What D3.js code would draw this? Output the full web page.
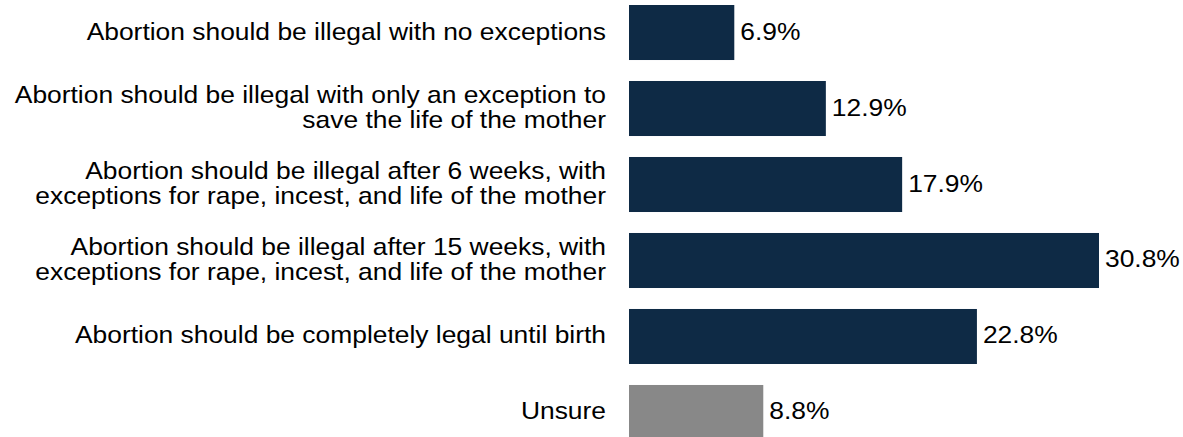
<!DOCTYPE html>
<html>
<head>
<meta charset="utf-8">
<script src="https://cdn.jsdelivr.net/npm/d3@7"></script>
<style>
  html, body { margin: 0; padding: 0; background: #fff; }
  svg { display: block; font-family: "Liberation Sans", Arial, sans-serif; }
</style>
</head>
<body>
<svg id="chart" width="1183" height="437"></svg>
<script>
// Survey responses on abortion policy
const categories = [
  ["Abortion should be illegal with no exceptions"],
  ["Abortion should be illegal with only an exception to", "save the life of the mother"],
  ["Abortion should be illegal after 6 weeks, with", "exceptions for rape, incest, and life of the mother"],
  ["Abortion should be illegal after 15 weeks, with", "exceptions for rape, incest, and life of the mother"],
  ["Abortion should be completely legal until birth"],
  ["Unsure"]
];
const values = [6.9, 12.9, 17.9, 30.8, 22.8, 8.8];
const barColors = ["#0e2a45", "#0e2a45", "#0e2a45", "#0e2a45", "#0e2a45", "#888888"];

const svg = d3.select("#chart");
const x0 = 629;
const fontSize = 24;
const stretch = 1.1;   // slightly widened lettering
const baseShift = 7;   // baseline offset below band centre
const lineH = 25;

const x = d3.scaleLinear().domain([0, 30.8]).range([x0, 1099]);
const y = d3.scaleBand()
  .domain(d3.range(categories.length))
  .range([5, 440])
  .paddingInner(0.276)
  .paddingOuter(0);

const rows = svg.selectAll("g.row")
  .data(values)
  .join("g")
  .attr("class", "row");

rows.append("rect")
  .attr("x", x(0))
  .attr("y", (d, i) => y(i))
  .attr("width", d => x(d) - x(0))
  .attr("height", y.bandwidth())
  .attr("fill", (d, i) => barColors[i]);

// value labels
rows.append("text")
  .attr("transform", (d, i) =>
    `translate(${x(d) + 6},${y(i) + y.bandwidth() / 2 + baseShift}) scale(${stretch},1)`)
  .attr("font-size", fontSize)
  .attr("fill", "#000")
  .text(d => d.toFixed(1) + "%");

// category labels
rows.append("text")
  .attr("text-anchor", "end")
  .attr("font-size", fontSize)
  .attr("fill", "#000")
  .attr("transform", (d, i) =>
    `translate(${x0 - 23},${y(i) + y.bandwidth() / 2 + baseShift}) scale(${stretch},1)`)
  .each(function (d, i) {
    const lines = categories[i];
    const t = d3.select(this);
    lines.forEach((line, k) => {
      t.append("tspan")
        .attr("x", 0)
        .attr("y", (k - (lines.length - 1) / 2) * lineH)
        .text(line);
    });
  });
</script>
</body>
</html>
